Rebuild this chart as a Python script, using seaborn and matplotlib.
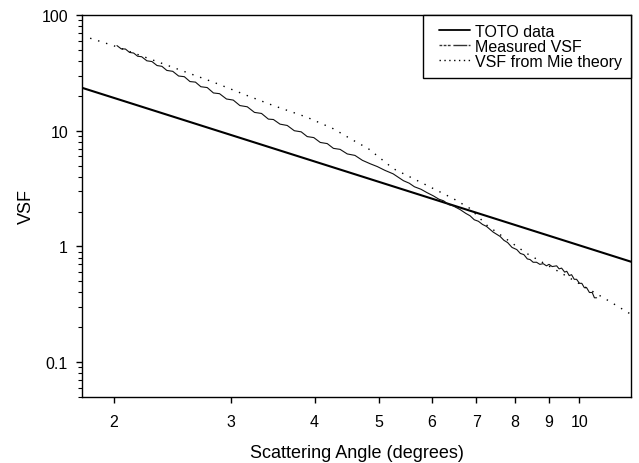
import matplotlib
matplotlib.use("Agg")
import matplotlib.pyplot as plt
import matplotlib.ticker as mticker
from matplotlib.legend_handler import HandlerLine2D
from matplotlib.lines import Line2D
import seaborn as sns
import pandas as pd

# ---- data ----
toto_angle = [1.79, 11.95]
toto_vsf = [23.5, 0.738]

measured_angle = [2.02, 2.05, 2.08, 2.11, 2.14, 2.17, 2.20, 2.24, 2.28, 2.32,
                  2.36, 2.40, 2.45, 2.50, 2.55, 2.60, 2.65, 2.70, 2.76, 2.82,
                  2.88, 2.95, 3.02, 3.09, 3.17, 3.25, 3.33, 3.41, 3.47, 3.55,
                  3.64, 3.73, 3.82, 3.90, 3.99, 4.08, 4.18, 4.27, 4.37, 4.48,
                  4.60, 4.72, 4.85, 4.97, 5.10, 5.25, 5.44, 5.55, 5.65, 5.78,
                  5.90, 6.03, 6.15, 6.25, 6.36, 6.46, 6.62, 6.75, 6.85, 6.95,
                  7.05, 7.15, 7.25, 7.42, 7.60, 7.70, 7.80, 7.92, 8.05, 8.15,
                  8.25, 8.35, 8.43, 8.52, 8.62, 8.72, 8.82, 8.92, 9.00, 9.10,
                  9.24, 9.32, 9.40, 9.50, 9.57, 9.65, 9.73, 9.82, 9.90, 10.00,
                  10.08, 10.17, 10.25, 10.35, 10.45, 10.53, 10.61]
measured_vsf = [54.4, 51.0, 50.8, 47.5, 46.9, 44.0, 43.6, 40.2, 39.6, 36.6,
                36.0, 33.2, 32.6, 29.7, 29.3, 26.6, 26.3, 24.0, 23.6, 21.2,
                20.9, 18.8, 18.4, 16.5, 16.1, 14.4, 14.1, 12.6, 12.5, 11.4,
                11.1, 10.0, 9.78, 8.90, 8.72, 7.92, 7.74, 7.04, 6.90, 6.30,
                6.12, 5.55, 5.18, 4.90, 4.55, 4.24, 3.70, 3.52, 3.28, 3.12,
                2.92, 2.74, 2.56, 2.48, 2.30, 2.24, 2.08, 1.93, 1.84, 1.70,
                1.65, 1.55, 1.49, 1.33, 1.22, 1.13, 1.08, 0.98, 0.94, 0.87,
                0.85, 0.78, 0.77, 0.73, 0.73, 0.70, 0.71, 0.68, 0.70, 0.67,
                0.68, 0.64, 0.65, 0.60, 0.61, 0.56, 0.57, 0.52, 0.52, 0.48,
                0.48, 0.44, 0.44, 0.40, 0.40, 0.36, 0.36]

mie_angle = [1.841, 1.995, 2.819, 3.164, 3.469, 3.894, 4.269, 4.575, 4.818, 5.253,
             5.895, 6.464, 6.847, 7.254, 7.864, 8.333, 9.35, 11.11, 11.95]
mie_vsf = [63.0, 54.4, 26.3, 20.2, 16.5, 13.1, 10.4, 8.25, 7.0, 4.70,
           3.38, 2.59, 2.13, 1.53, 1.10, 0.87, 0.597, 0.334, 0.259]

x_ticks = [2, 3, 4, 5, 6, 7, 8, 9, 10]
y_ticks = [0.1, 1, 10, 100]
y_tick_labels = ["0.1", "1", "10", "100"]
series_labels = ["TOTO data", "Measured VSF", "VSF from Mie theory"]

sns.set_theme(style="ticks")
plt.rcParams["font.family"] = ["Liberation Sans", "DejaVu Sans"]
plt.rcParams["text.color"] = "black"
plt.rcParams["axes.labelcolor"] = "black"
plt.rcParams["xtick.color"] = "black"
plt.rcParams["ytick.color"] = "black"

fig = plt.figure(figsize=(6.39, 4.64), dpi=100)
ax = fig.add_axes([82/639, 1-398/464, (631-82)/639, (398-16)/464])

df_toto = pd.DataFrame({"angle": toto_angle, "vsf": toto_vsf})
df_meas = pd.DataFrame({"angle": measured_angle, "vsf": measured_vsf})
df_mie = pd.DataFrame({"angle": mie_angle, "vsf": mie_vsf})

sns.lineplot(data=df_toto, x="angle", y="vsf", ax=ax, color="black", lw=1.5,
             sort=False, estimator=None)
sns.lineplot(data=df_meas, x="angle", y="vsf", ax=ax, color="#111111", lw=0.8,
             sort=False, estimator=None)
sns.lineplot(data=df_mie, x="angle", y="vsf", ax=ax, color="black", lw=1.0,
             linestyle=(0, (1, 5)), sort=False, estimator=None)

ax.set_xscale("log")
ax.set_yscale("log")
ax.set_xlim(1.79, 11.95)
ax.set_ylim(0.05, 100)

ax.xaxis.set_major_locator(mticker.FixedLocator(x_ticks))
ax.xaxis.set_major_formatter(mticker.FixedFormatter([str(t) for t in x_ticks]))
ax.xaxis.set_minor_locator(mticker.NullLocator())
ax.yaxis.set_major_locator(mticker.FixedLocator(y_ticks))
ax.yaxis.set_major_formatter(mticker.FixedFormatter(y_tick_labels))
ax.yaxis.set_minor_locator(mticker.LogLocator(base=10, subs=range(2, 10)))
ax.yaxis.set_minor_formatter(mticker.NullFormatter())

ax.tick_params(axis="both", which="major", labelsize=11.5, length=4, width=1,
               color="black", labelcolor="black", direction="out")
ax.tick_params(axis="x", which="major", pad=8)
ax.tick_params(axis="y", which="major", pad=6)
ax.tick_params(axis="y", which="minor", length=3, width=0.8, color="black")

for s in ax.spines.values():
    s.set_color("black")
    s.set_linewidth(1.0)

ax.set_xlabel("Scattering Angle (degrees)", fontsize=13, labelpad=11, color="black")
ax.set_ylabel("VSF", fontsize=13, labelpad=5, color="black")


class ShiftedLine(HandlerLine2D):
    def create_artists(self, legend, orig_handle, xdescent, ydescent, width,
                       height, fontsize, trans):
        shift = 0.2 * width
        return super().create_artists(legend, orig_handle, xdescent - shift,
                                      ydescent, width - shift, height,
                                      fontsize, trans)


handles = [
    Line2D([], [], color="black", lw=1.3),
    Line2D([], [], color="#333333", lw=1.0, linestyle=(0, (2, 1, 2, 1, 2, 2, 10, 1))),
    Line2D([], [], color="black", lw=1.0, linestyle=(0, (1, 2.5))),
]
leg = ax.legend(handles, series_labels, loc="upper right", fontsize=11.5,
                frameon=True, fancybox=False, framealpha=1, edgecolor="black",
                borderaxespad=0, handlelength=2.4, handletextpad=0.35,
                labelspacing=0.0, borderpad=0.55, labelcolor="black",
                handler_map={Line2D: ShiftedLine()})
leg.get_frame().set_linewidth(1.0)

fig.savefig("out.png", dpi=100)
